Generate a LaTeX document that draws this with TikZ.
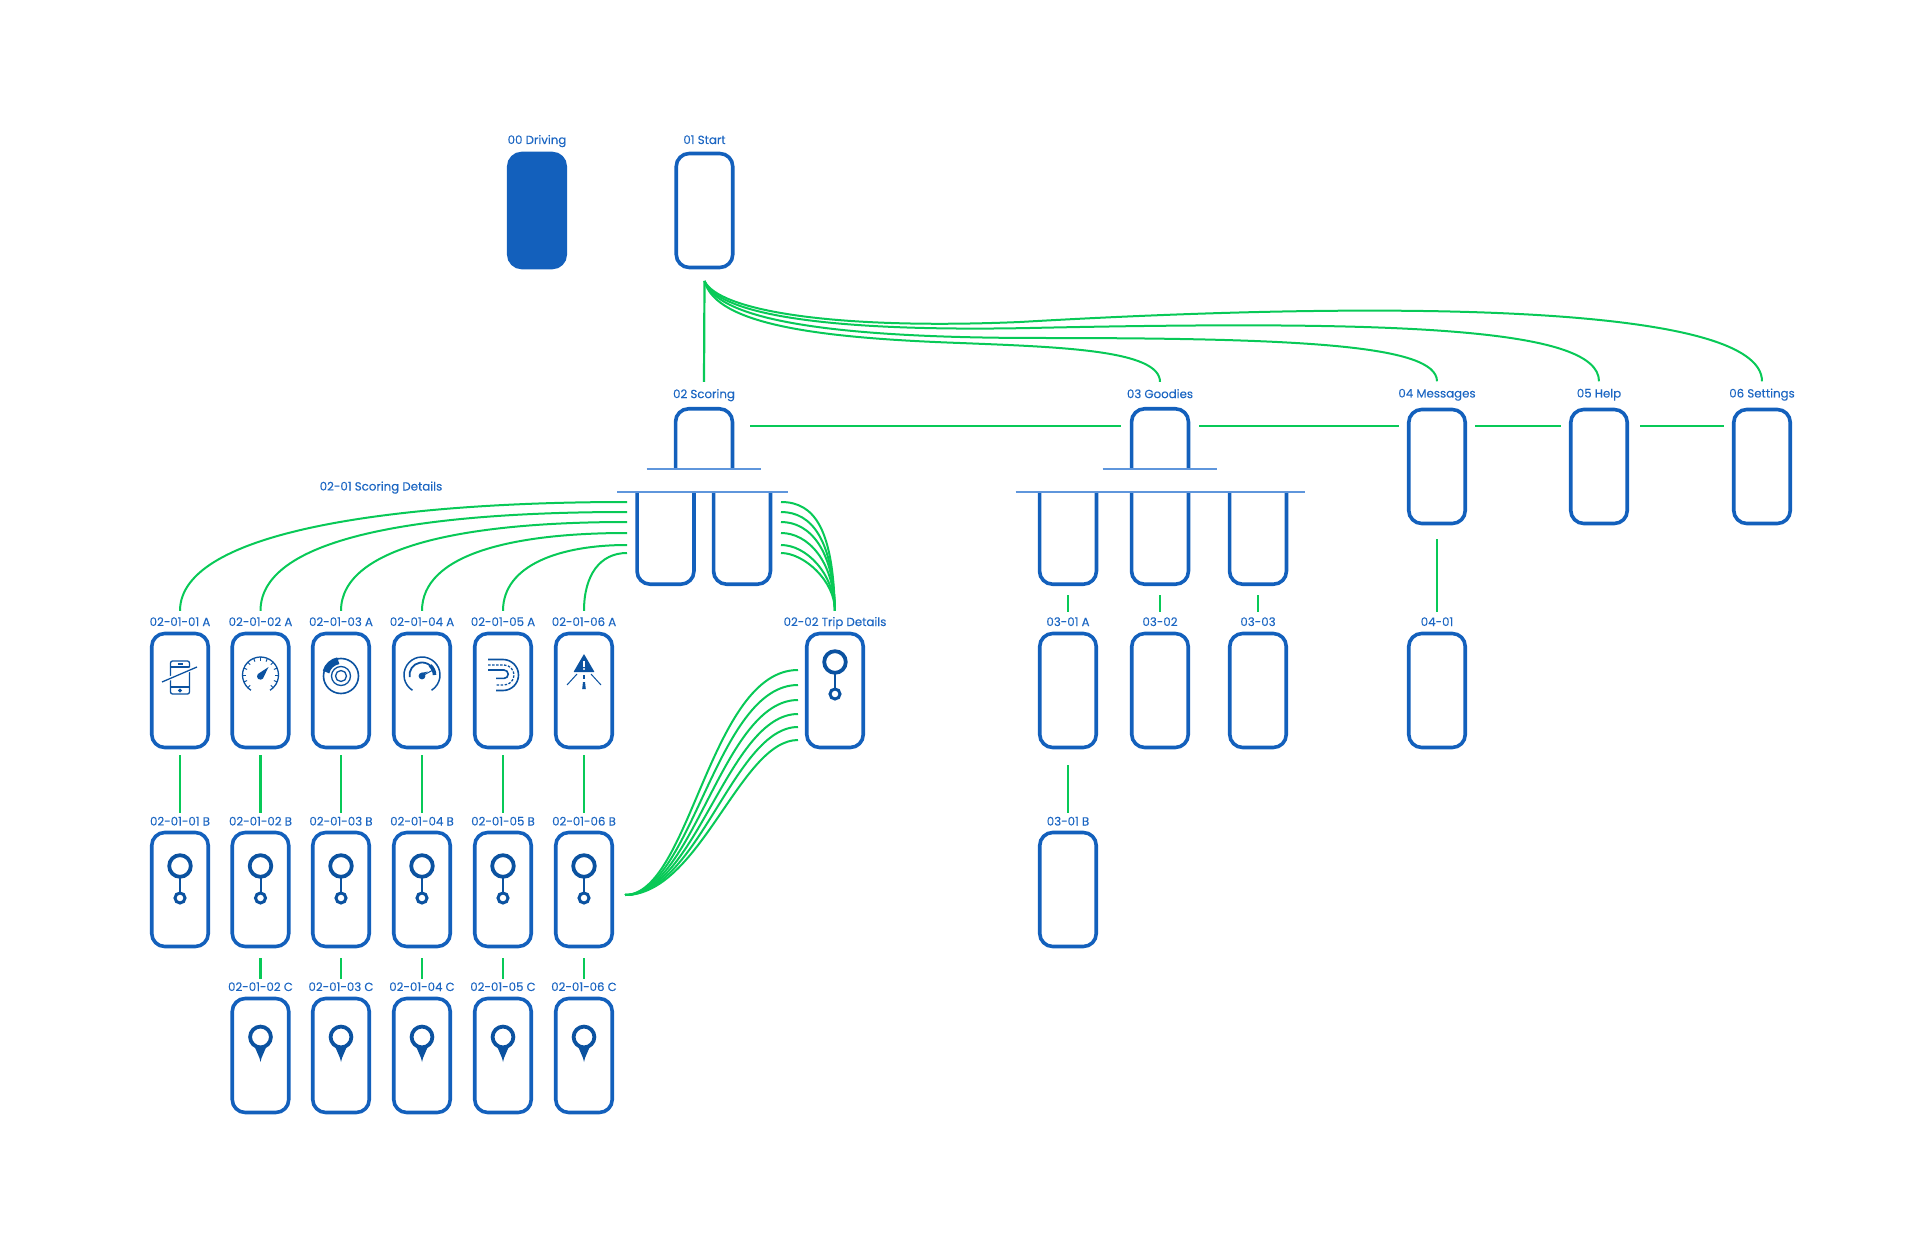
\documentclass[tikz,border=0pt]{standalone}
\usepackage{fontspec}
\setmainfont{Poppins}[FakeBold=0.15]
\usepackage{tikz}
\usetikzlibrary{positioning}
\definecolor{phoneblue}{HTML}{1360BC}
\definecolor{tagblue}{HTML}{1C66C2}
\definecolor{iconblue}{HTML}{0B52A0}
\definecolor{linkgreen}{HTML}{08C957}
\definecolor{ruleblue}{HTML}{5F96DC}
\tikzset{
  phone/.style={draw=phoneblue,line width=3.6pt,rounded corners=13pt,
            minimum width=56.5pt,minimum height=114pt,inner sep=0pt},
  phoneon/.style={phone,fill=phoneblue},
  phonetop/.style={minimum width=56.5pt,minimum height=60pt,inner sep=0pt},
  phonelow/.style={minimum width=56.5pt,minimum height=92pt,inner sep=0pt},
  outline/.style={draw=phoneblue,line width=3.6pt,rounded corners=13pt},
  tag/.style={font=\fontsize{11.8}{13}\selectfont,text=tagblue,inner sep=0pt,
            text height=10pt,text depth=3pt},
  link/.style={draw=linkgreen,line width=2.2pt},
  curve/.style={draw=linkgreen,line width=2pt},
  rule/.style={draw=ruleblue,line width=1.5pt},
  thin icon/.style={draw=iconblue,line width=1.3pt},
  routepic/.pic={
    \begin{scope}[y=1pt]
    \draw[draw=iconblue,line width=2pt] (0,-12) -- (0,-26);
    \draw[draw=iconblue,line width=3.8pt] (0,0) circle (10.8pt);
    \draw[draw=iconblue,line width=3pt] (0,-32) circle (5pt);
    \end{scope}
  },
  pinpic/.pic={
    \begin{scope}[y=1pt]
    \fill[iconblue] (-7,-7) -- (7,-7) -- (1,-21) -- (0,-25) -- (-1,-21) -- cycle;
    \draw[draw=iconblue,fill=white,line width=3.8pt] (0,0) circle (10.4pt);
    \end{scope}
  },
  phoneoffpic/.pic={
    \begin{scope}[y=1pt]
    \draw[thin icon,rounded corners=2pt] (-9.5,-19) rectangle (9.5,14);
    \draw[thin icon] (-9.5,8) -- (9.5,8) (-9.5,-12) -- (9.5,-12) (-2.5,11) -- (2.5,11);
    \draw[thin icon] (0,-15.5) circle (1.3pt);
    \draw[draw=white,line width=4pt] (-16,-6) -- (16,8);
    \draw[thin icon] (-18,-7) -- (17,8);
    \end{scope}
  },
  gaugepic/.pic={
    \begin{scope}[y=1pt]
    \draw[thin icon] (-122:18) arc (-122+360:-58:18pt);
    \foreach \a in {-45,-22.5,...,225} \draw[thin icon,line width=1pt] (\a:14.5) -- (\a:18);
    \fill[iconblue] (8,8) -- (2.5,-3.5) arc (-40:-220:3.4pt) -- cycle;
    \end{scope}
  },
  brakepic/.pic={
    \begin{scope}[y=1pt]
    \draw[thin icon,line width=1.6pt] (0,0) circle (17.5pt);
    \draw[thin icon] (0,0) circle (9.5pt);
    \draw[thin icon] (0,0) circle (5.5pt);
    \draw[draw=iconblue,line width=7pt] (165:15.5) arc (165:100:15.5pt);
    \end{scope}
  },
  speedpic/.pic={
    \begin{scope}[y=1pt]
    \draw[thin icon,line width=1.5pt] (-122:18) arc (-122+360:-58:18pt);
    \draw[draw=iconblue,line width=1.8pt] (190:12.5) arc (190:50:12.5pt);
    \draw[draw=iconblue,line width=3.6pt] (50:12.5) arc (50:0:12.5pt);
    \draw[thin icon,line width=1pt] (0,-1) -- (11,5);
    \fill[iconblue] (0,-1) circle (3.4pt);
    \fill[iconblue] (0,-1) -- (6,3.5) -- (-1,2) -- cycle;
    \end{scope}
  },
  curvepic/.pic={
    \begin{scope}[y=1pt]
    \draw[thin icon,line width=1.6pt] (-15,15.5) -- (0,15.5) arc (90:-90:15.5pt) -- (-7,-15.5);
    \draw[thin icon,dashed,dash pattern=on 2.5pt off 1.5pt] (-15,10) -- (1,10) arc (90:-90:10pt) -- (-7,-10);
    \draw[thin icon,line width=1.6pt] (-15,5) -- (1,5) arc (90:-90:4.2pt) -- (-7,-3.4);
    \end{scope}
  },
  warnpic/.pic={
    \begin{scope}[y=1pt]
    \fill[iconblue,rounded corners=0.5pt] (0,21) -- (10.5,3) -- (-10.5,3) -- cycle;
    \fill[white] (-1,14) rectangle (1,8.5);
    \fill[white] (0,6) circle (1.1pt);
    \draw[thin icon,line width=1pt] (-7,1) -- (-17,-10) (7,1) -- (17,-10);
    \fill[iconblue] (-0.6,0) rectangle (0.6,-4);
    \fill[iconblue] (-1,-7) -- (1,-7) -- (1.8,-14) -- (-1.8,-14) -- cycle;
    \end{scope}
  },
}
\begin{document}
\begin{tikzpicture}[x=1pt,y=-1pt]
  \useasboundingbox (0,0) rectangle (1920,1246);

  \node[phoneon] (p00) at (537,210.5) {};
  \node[phone]   (p01) at (704.5,210.5) {};
  \node[tag,above=4.5pt of p00] (l00) {00 Driving};
  \node[tag,above=4.5pt of p01] (l01) {01 Start};

  \node[phonetop] (p02) at (704,439) {};
  \node[phonetop] (p03) at (1160,439) {};
  \node[phone]    (p04) at (1437,466.5) {};
  \node[phone]    (p05) at (1599,466.5) {};
  \node[phone]    (p06) at (1762,466.5) {};
  \node[tag,above=7.5pt of p02] (l02) {02 Scoring};
  \node[tag,above=7.5pt of p03] (l03) {03 Goodies};
  \node[tag,above=7pt of p04] (l04) {04 Messages};
  \node[tag,above=7pt of p05] (l05) {05 Help};
  \node[tag,above=7pt of p06] (l06) {06 Settings};

  \node[phonelow] (c21) at (665.5,538) {};
  \node[phonelow] (c22) at (742,538) {};
  \node[phonelow] (c31) at (1068,538) {};
  \node[phonelow] (c32) at (1160,538) {};
  \node[phonelow] (c33) at (1258,538) {};
  \node[tag] (lsd) at (381,487) {02-01 Scoring Details};

  \foreach \n in {p02,p03}
    \draw[outline] (\n.south west) -- (\n.north west) -- (\n.north east) -- (\n.south east);
  \foreach \n in {c21,c22,c31,c32,c33}
    \draw[outline] (\n.north west) -- (\n.south west) -- (\n.south east) -- (\n.north east);
  \draw[rule] ([xshift=-29pt]p02.south west) -- ([xshift=29pt]p02.south east);
  \draw[rule] ([xshift=-29pt]p03.south west) -- ([xshift=29pt]p03.south east);
  \draw[rule] ([xshift=-20pt]c21.north west) -- ([xshift=18pt]c22.north east);
  \draw[rule] ([xshift=-24pt]c31.north west) -- ([xshift=19pt]c33.north east);

  \foreach \i/\x in {1/180,2/260.5,3/341,4/422,5/503,6/584} {
    \node[phone] (a\i) at (\x,690.5) {};
    \node[phone] (b\i) at (\x,889.5) {};
    \node[tag,above=2.5pt of a\i] (la\i) {02-01-0\i{} A};
    \node[tag,above=2pt of b\i] (lb\i) {02-01-0\i{} B};
    \draw[link,shorten <=6pt,shorten >=2pt] (a\i) -- (lb\i);
    \pic at (\x,866) {routepic};
  }
  \foreach \i/\x in {2/260.5,3/341,4/422,5/503,6/584} {
    \node[phone] (d\i) at (\x,1055.5) {};
    \node[tag,above=2.5pt of d\i] (ld\i) {02-01-0\i{} C};
    \draw[link,shorten <=10pt,shorten >=2pt] (b\i) -- (ld\i);
    \pic at (\x,1037) {pinpic};
  }
  \pic at (180,675) {phoneoffpic};
  \pic at (260.5,675) {gaugepic};
  \pic at (341,676) {brakepic};
  \pic at (422,675) {speedpic};
  \pic at (503,675) {curvepic};
  \pic at (584,675) {warnpic};

  \node[phone] (t2) at (835,690.5) {};
  \node[tag,above=2.5pt of t2] (lt2) {02-02 Trip Details};
  \pic at (835,662) {routepic};

  \node[phone] (a31) at (1068,690.5) {};
  \node[phone] (a32) at (1160,690.5) {};
  \node[phone] (a33) at (1258,690.5) {};
  \node[phone] (b31) at (1068,889.5) {};
  \node[phone] (a41) at (1437,690.5) {};
  \node[tag,above=2.5pt of a31] (la31) {03-01 A};
  \node[tag,above=2.5pt of a32] (la32) {03-02};
  \node[tag,above=2.5pt of a33] (la33) {03-03};
  \node[tag,above=2pt of b31] (lb31) {03-01 B};
  \node[tag,above=2.5pt of a41] (la41) {04-01};

  \draw[link,shorten <=11pt,shorten >=4pt] (c31) -- (la31);
  \draw[link,shorten <=11pt,shorten >=4pt] (c32) -- (la32);
  \draw[link,shorten <=11pt,shorten >=4pt] (c33) -- (la33);
  \draw[link,shorten <=16pt,shorten >=2pt] (a31) -- (lb31);
  \draw[link,shorten <=14pt,shorten >=4pt] (p04) -- (la41);

  \foreach \a/\b/\u/\v/\s/\e in {p02/p03/13/13/18/11,p03/p04/13/40.5/11/8,p04/p05/40.5/40.5/8/8,p05/p06/40.5/40.5/11/8}
    \draw[link,shorten <=\s pt,shorten >=\e pt] ([yshift=\u pt]\a.east) -- ([yshift=\v pt]\b.west);

  \coordinate (up) at (704.5,281);
  \draw[link] (up) -- ([yshift=6pt]l02.north);
  \draw[curve,shorten >=6pt] (up) .. controls (716,325) and (820,338) .. (960,343)
    .. controls (1060,347) and (1160,350) .. (l03.north);
  \draw[curve,shorten >=6pt] (up) .. controls (718,320) and (830,338) .. (1040,338)
    .. controls (1300,338) and (1437,345) .. (l04.north);
  \draw[curve,shorten >=6pt] (up) .. controls (718,315) and (830,332) .. (1030,328)
    .. controls (1400,320) and (1599,328) .. (l05.north);
  \draw[curve,shorten >=6pt] (up) .. controls (718,310) and (830,330) .. (1020,322)
    .. controls (1400,300) and (1762,305) .. (l06.north);

  \foreach \i/\y/\p/\q in {1/502/530/400,2/512/535/430,3/522/545/470,4/533/555/510,5/545/565/560,6/553/575/600} {
    \coordinate (sd\i) at (627,\y);
    \draw[curve,shorten >=5pt] (sd\i) .. controls (\q,\y) and (la\i.north |- 0,\p) .. (la\i.north);
  }
  \foreach \i/\y/\p/\q in {1/502/815/833,2/512/812/833,3/522/810/834,4/533/808/834,5/545/806/834,6/553/804/835} {
    \coordinate (sr\i) at (781,\y);
    \draw[curve,shorten >=5pt] (sr\i) .. controls (\p,\y) and (\q,\y+28) .. (lt2.north);
  }
  \coordinate (tf) at (625,895);
  \foreach \i/\y/\p/\q in {1/670/690/710,2/685/692/716,3/700/694/722,4/714/696/728,5/727/698/734,6/740/700/740} {
    \coordinate (tt\i) at (798,\y);
    \draw[curve] (tf) .. controls (\p,895) and (\q,\y) .. (tt\i);
  }
\end{tikzpicture}
\end{document}
